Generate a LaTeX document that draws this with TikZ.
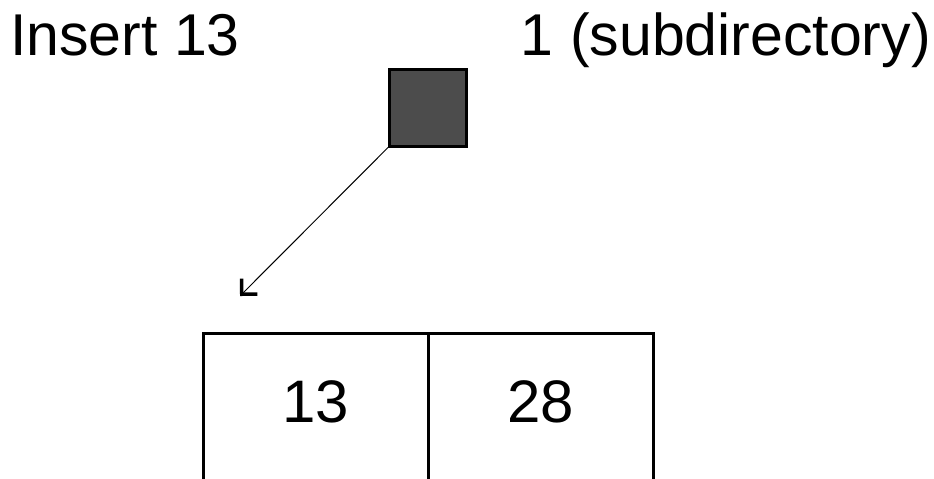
\documentclass[tikz,border=0pt]{standalone}
\usepackage{fontspec}
\setmainfont{Liberation Sans}
\usetikzlibrary{arrows.meta, positioning}

\begin{document}
\begin{tikzpicture}[x=1pt, y=-1pt,
    caption/.style={inner sep=0pt, font=\fontsize{59}{70}\selectfont},
    dirbox/.style={draw, line width=3pt, fill=black!70, minimum size=77pt, inner sep=0pt},
    cell/.style={draw, line width=3pt, minimum width=225pt, minimum height=160pt, inner sep=0pt,
                 outer sep=0pt, text height=43pt, text depth=24pt, font=\fontsize{60}{70}\selectfont},
    ptr/.style={line width=1pt, arrows={-Straight Barb[length=11pt, width=22pt, line width=3.5pt, line cap=butt, line join=miter]}},
]
  \useasboundingbox (0,0) rectangle (934,479);
  \clip (0,0) rectangle (934,479);

  % headings
  \node[caption, anchor=base west] (ins) at (10,55) {Insert 13};
  \node[caption, anchor=base east] (sub) at (931,55) {1 (subdirectory)};

  % directory entry
  \node[dirbox] (dir) at (428,107.5) {};

  % bucket, the bottom runs off the page
  \node[cell, anchor=north west] (c13) at (203,333) {13};
  \node[cell, right=0pt of c13] (c28) {28};

  % pointer from the directory down to the bucket
  \coordinate (tip) at (240,296);
  \draw[ptr] (dir.south west) -- (tip);
\end{tikzpicture}
\end{document}
